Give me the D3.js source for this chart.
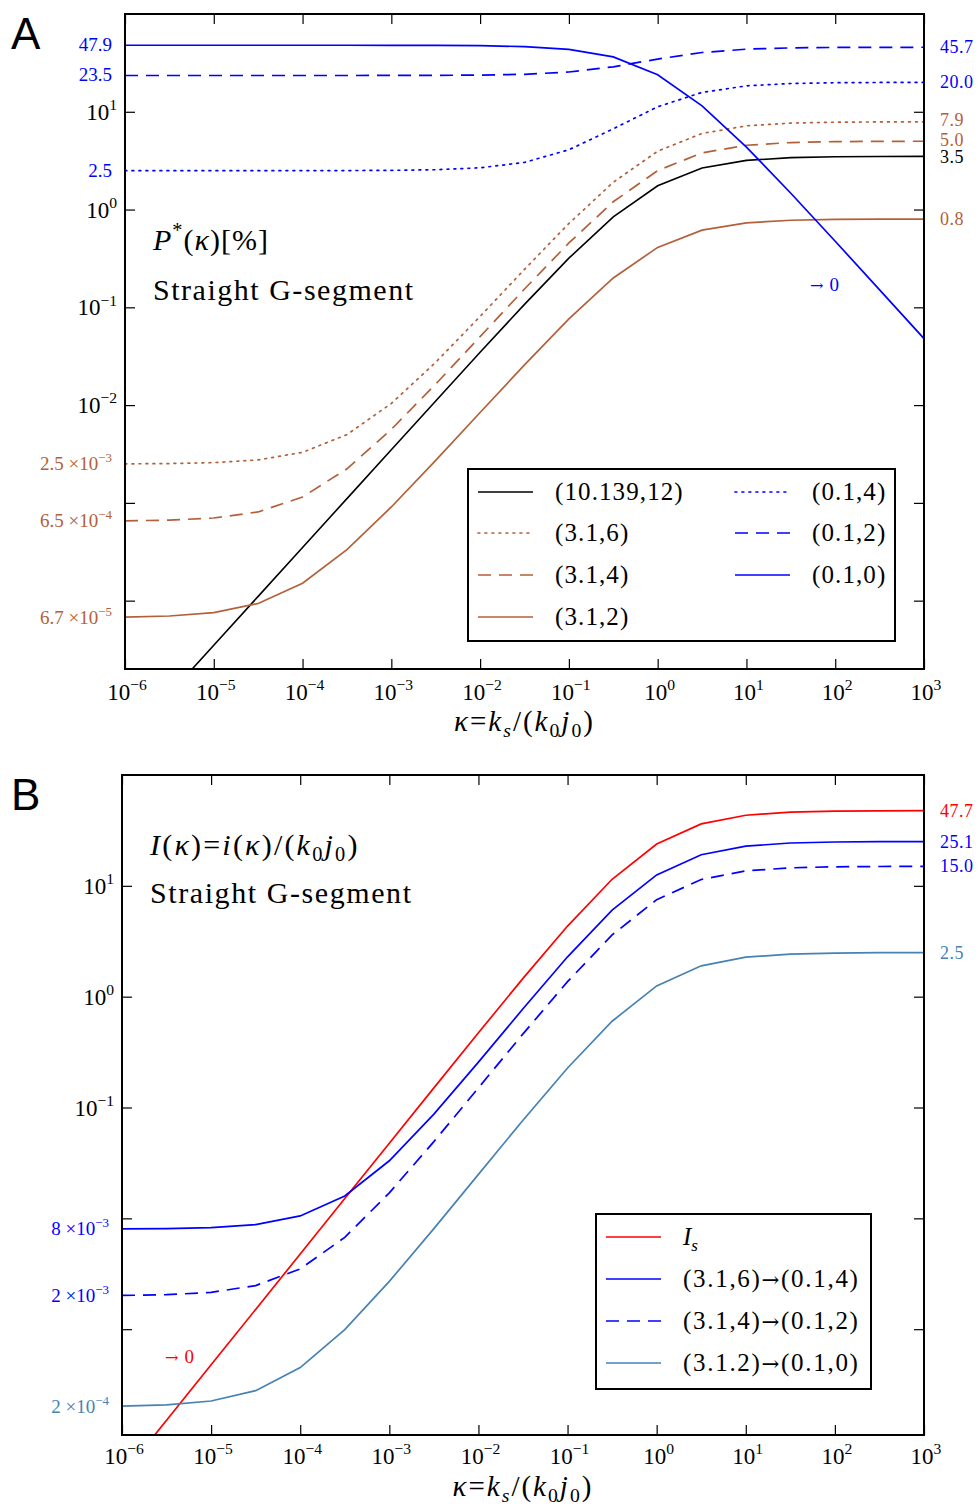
<!DOCTYPE html>
<html><head><meta charset="utf-8">
<script src="https://cdn.jsdelivr.net/npm/d3@7"></script>
<style>body{margin:0;background:#fff}</style>
</head><body>
<svg id="c" width="979" height="1507"></svg>
<script>
// ---------- data ----------
const kappa = [1e-6, 3.162e-6, 1e-5, 3.162e-5, 1e-4, 3.162e-4, 1e-3, 3.162e-3, 1e-2, 3.162e-2,
               0.1, 0.3162, 1, 3.162, 10, 31.62, 100, 316.2, 1000];

// Panel A: P*(kappa) [%]
const pA_10139_12 = [3.5e-6, 1.107e-5, 3.5e-5, 1.107e-4, 3.5e-4, 1.106e-3, 3.497e-3, 1.103e-2, 3.465e-2, 0.1073,
                     0.3182, 0.8407, 1.75, 2.659, 3.182, 3.393, 3.465, 3.489, 3.4965];
const pA_31_6 = [2.508e-3, 2.525e-3, 2.579e-3, 2.75e-3, 3.29e-3, 4.997e-3, 0.01039, 0.0274, 0.08072, 0.2446,
                 0.7207, 1.90, 3.953, 6.004, 7.184, 7.66, 7.824, 7.878, 7.894];
const pA_31_4 = [6.55e-4, 6.66e-4, 7.0e-4, 8.08e-4, 1.15e-3, 2.23e-3, 5.645e-3, 0.01641, 0.05016, 0.1539,
                 0.4552, 1.202, 2.501, 3.799, 4.546, 4.847, 4.951, 4.985, 4.996];
const pA_31_2 = [6.78e-5, 6.97e-5, 7.54e-5, 9.36e-5, 1.51e-4, 3.33e-4, 9.08e-4, 2.72e-3, 8.4e-3, 0.02576,
                 0.0762, 0.1998, 0.410, 0.615, 0.731, 0.777, 0.7925, 0.7976, 0.7992];
const pA_01_4 = [2.5, 2.5, 2.5, 2.5005, 2.5017, 2.5055, 2.5175, 2.555, 2.673, 3.036,
                 4.091, 6.704, 11.25, 15.79, 18.41, 19.46, 19.83, 19.94, 19.98];
const pA_01_2 = [23.5, 23.5, 23.5, 23.501, 23.502, 23.507, 23.52, 23.57, 23.72, 24.18,
                 25.52, 28.83, 34.6, 40.37, 43.68, 45.02, 45.48, 45.63, 45.68];
const pA_01_0 = [47.9, 47.9, 47.9, 47.898, 47.895, 47.885, 47.85, 47.75, 47.43, 46.43,
                 43.55, 36.39, 23.95, 11.51, 4.355, 1.469, 0.4743, 0.1509, 0.04785];

// Panel B: I(kappa)
const iB_Is = [4.77e-5, 1.508e-4, 4.77e-4, 1.508e-3, 4.77e-3, 0.01508, 0.04765, 0.1504, 0.4723, 1.462,
               4.336, 11.46, 23.85, 36.24, 43.36, 46.24, 47.23, 47.55, 47.65];
const iB_6_4 = [8.025e-3, 8.079e-3, 8.251e-3, 8.794e-3, 0.01051, 0.01593, 0.03308, 0.08711, 0.2565, 0.7773,
                2.29, 6.037, 12.56, 19.07, 22.83, 24.34, 24.86, 25.03, 25.08];
const iB_4_2 = [2.015e-3, 2.047e-3, 2.15e-3, 2.474e-3, 3.5e-3, 6.742e-3, 0.01699, 0.04928, 0.1505, 0.4618,
                1.366, 3.605, 7.502, 11.40, 13.64, 14.54, 14.85, 14.95, 14.99];
const iB_2_0 = [2.025e-4, 2.079e-4, 2.25e-4, 2.79e-4, 4.5e-4, 9.9e-4, 2.698e-3, 8.08e-3, 0.02495, 0.07683,
                0.2275, 0.6005, 1.25, 1.899, 2.273, 2.423, 2.475, 2.492, 2.4975];

// tick values / labels
const xTicks = [1e-6, 1e-5, 1e-4, 1e-3, 1e-2, 1e-1, 1, 10, 100, 1000];
const xTickExp = ["\u22126", "\u22125", "\u22124", "\u22123", "\u22122", "\u22121", "0", "1", "2", "3"];
const yTicksA = [10, 1, 0.1, 0.01, 0.001, 0.0001];
const yTickExpA = ["1", "0", "\u22121", "\u22122", null, null];
const yTicksB = [10, 1, 0.1, 0.01, 0.001];
const yTickExpB = ["1", "0", "\u22121", null, null];

// series labels
const legendA = ["(10.139,12)", "(3.1,6)", "(3.1,4)", "(3.1,2)", "(0.1,4)", "(0.1,2)", "(0.1,0)"];
const legendB = [["(3.1,6)", "(0.1,4)"], ["(3.1,4)", "(0.1,2)"], ["(3.1.2)", "(0.1,0)"]];

// side value labels
const leftLabA = [
  {v: 47.9, m: "47.9", e: null, c: "blue"},
  {v: 23.5, m: "23.5", e: null, c: "blue"},
  {v: 2.5, m: "2.5", e: null, c: "blue"},
  {v: 2.5e-3, m: "2.5 \u00d710", e: "\u22123", c: "brown"},
  {v: 6.5e-4, m: "6.5 \u00d710", e: "\u22124", c: "brown"},
  {v: 6.7e-5, m: "6.7 \u00d710", e: "\u22125", c: "brown"}];
const rightLabA = [
  {v: 45.7, m: "45.7", c: "blue", d: 0},
  {v: 20.0, m: "20.0", c: "blue", d: 0},
  {v: 7.9, m: "7.9", c: "brown", d: -2},
  {v: 5.0, m: "5.0", c: "brown", d: -1},
  {v: 3.5, m: "3.5", c: "black", d: 1},
  {v: 0.8, m: "0.8", c: "brown", d: 0}];
const leftLabB = [
  {v: 8e-3, m: "8 \u00d710", e: "\u22123", c: "blue"},
  {v: 2e-3, m: "2 \u00d710", e: "\u22123", c: "blue"},
  {v: 2e-4, m: "2 \u00d710", e: "\u22124", c: "steel"}];
const rightLabB = [
  {v: 47.7, m: "47.7", c: "red", d: 0},
  {v: 25.1, m: "25.1", c: "blue", d: 0},
  {v: 15.0, m: "15.0", c: "blue", d: 0},
  {v: 2.5, m: "2.5", c: "steel", d: 0}];

// ---------- styling ----------
const COL = {black: "#000000", brown: "#b3603a", blue: "#0000ff", red: "#ff0000", steel: "#4682b4"};
const DASH = {solid: null, dashed: "13,8", dotted: "1.8,5.2"};
const SERIF = "'Liberation Serif','Times New Roman',serif";
const ARROWF = "'DejaVu Serif','DejaVu Sans',serif";

const svg = d3.select("#c");

function rich(sel, parts, size, subF, supF) {
  subF = subF || 0.24; supF = supF || 0.42;
  let shift = 0;
  parts.forEach(p => {
    const target = p.sub ? size * subF : p.sup ? -size * supF : 0;
    const ts = sel.append("tspan").text(p.t).attr("dy", target - shift);
    shift = target;
    if (p.sub || p.sup) ts.attr("font-size", size * 0.68);
    if (p.it) ts.attr("font-style", "italic");
    if (p.arrow) ts.attr("font-family", ARROWF).attr("font-size", size * 0.85);
    if (p.dx) ts.attr("dx", p.dx);
  });
}

function panel(cfg) {
  const x = d3.scaleLog().domain([1e-6, 1e3]).range([cfg.L, cfg.R]);
  const y = d3.scaleLog().domain(cfg.yDom).range([cfg.B, cfg.T]);
  const g = svg.append("g");
  const clipId = "clip" + cfg.id;
  g.append("clipPath").attr("id", clipId).append("rect")
    .attr("x", cfg.L).attr("y", cfg.T).attr("width", cfg.R - cfg.L).attr("height", cfg.B - cfg.T);

  // axes ticks (inward) on all sides
  const tk = 10;
  g.append("g").attr("transform", `translate(0,${cfg.B})`)
    .call(d3.axisBottom(x).tickValues(xTicks).tickSizeInner(-tk).tickSizeOuter(0).tickFormat(() => ""));
  g.append("g").attr("transform", `translate(0,${cfg.T})`)
    .call(d3.axisTop(x).tickValues(xTicks).tickSizeInner(-tk).tickSizeOuter(0).tickFormat(() => ""));
  g.append("g").attr("transform", `translate(${cfg.L},0)`)
    .call(d3.axisLeft(y).tickValues(cfg.yTicks).tickSizeInner(-tk).tickSizeOuter(0).tickFormat(() => ""));
  g.append("g").attr("transform", `translate(${cfg.R},0)`)
    .call(d3.axisRight(y).tickValues(cfg.yTicks).tickSizeInner(-tk).tickSizeOuter(0).tickFormat(() => ""));
  g.selectAll(".domain").remove();
  g.selectAll(".tick line").attr("stroke", "#000").attr("stroke-width", 1.2);

  // x tick labels
  xTicks.forEach((t, i) => {
    const tx = g.append("text").attr("x", x(t) + 2).attr("y", cfg.B + cfg.xtOff)
      .attr("text-anchor", "middle").attr("font-family", SERIF).attr("font-size", 23);
    rich(tx, [{t: "10"}, {t: xTickExp[i], sup: true}], 23);
  });
  // y tick labels
  cfg.yTicks.forEach((t, i) => {
    const e = cfg.yExp[i];
    if (e === null) return;
    const tx = g.append("text").attr("x", cfg.L - 8).attr("y", y(t) + 8)
      .attr("text-anchor", "end").attr("font-family", SERIF).attr("font-size", 23);
    rich(tx, [{t: "10"}, {t: e, sup: true}], 23);
  });

  // curves
  const line = d3.line().x((d, i) => x(kappa[i])).y(d => y(d));
  const cg = g.append("g").attr("clip-path", `url(#${clipId})`);
  cfg.series.forEach(s => {
    cg.append("path").datum(s.data).attr("d", line).attr("fill", "none")
      .attr("stroke", COL[s.c]).attr("stroke-width", s.w || 1.7)
      .attr("stroke-dasharray", DASH[s.dash])
      .attr("stroke-linecap", s.dash === "dotted" ? "round" : "butt");
  });

  // frame
  g.append("rect").attr("x", cfg.L).attr("y", cfg.T).attr("width", cfg.R - cfg.L).attr("height", cfg.B - cfg.T)
    .attr("fill", "none").attr("stroke", "#000").attr("stroke-width", 2);

  // side labels
  cfg.leftLab.forEach(l => {
    const tx = g.append("text").attr("x", cfg.L - 13).attr("y", y(l.v) + 6)
      .attr("text-anchor", "end").attr("font-family", SERIF).attr("font-size", 19).attr("fill", COL[l.c]);
    const parts = [{t: l.m}];
    if (l.e) parts.push({t: l.e, sup: true});
    rich(tx, parts, 19);
  });
  cfg.rightLab.forEach(l => {
    g.append("text").attr("x", cfg.R + 16).attr("y", y(l.v) + 6 + l.d)
      .attr("font-family", SERIF).attr("font-size", 18).attr("letter-spacing", 0.5)
      .attr("fill", COL[l.c]).text(l.m);
  });

  // x axis label
  const xl = g.append("text").attr("x", (cfg.L + cfg.R) / 2).attr("y", cfg.B + cfg.xlOff)
    .attr("text-anchor", "middle").attr("font-family", SERIF).attr("font-size", 29)
    .attr("letter-spacing", 2);
  rich(xl, [{t: "\u03ba", it: true}, {t: "="}, {t: "k", it: true}, {t: "s", it: true, sub: true},
            {t: "/("}, {t: "k", it: true}, {t: "0", sub: true}, {t: "j", it: true}, {t: "0", sub: true}, {t: ")"}], 29, 0.2);

  // panel letter
  svg.append("text").attr("x", 11).attr("y", cfg.T + 35).attr("font-family", "'Liberation Sans',Arial,sans-serif")
    .attr("font-size", 44).text(cfg.letter);
  return {g, x, y};
}

// ---------- Panel A ----------
const A = panel({
  id: "A", letter: "A", L: 125, R: 924, T: 14, B: 669, yDom: [2e-5, 100], xtOff: 31, xlOff: 62,
  yTicks: yTicksA, yExp: yTickExpA, leftLab: leftLabA, rightLab: rightLabA,
  series: [
    {data: pA_10139_12, c: "black", dash: "solid", w: 1.6},
    {data: pA_31_6, c: "brown", dash: "dotted"},
    {data: pA_31_4, c: "brown", dash: "dashed"},
    {data: pA_31_2, c: "brown", dash: "solid"},
    {data: pA_01_4, c: "blue", dash: "dotted"},
    {data: pA_01_2, c: "blue", dash: "dashed"},
    {data: pA_01_0, c: "blue", dash: "solid"}]
});
{
  const g = A.g;
  const t1 = g.append("text").attr("x", 153).attr("y", 250).attr("font-family", SERIF).attr("font-size", 30)
    .attr("letter-spacing", 1);
  rich(t1, [{t: "P", it: true}, {t: "*", sup: true}, {t: "("}, {t: "\u03ba", it: true}, {t: ")[%]"}], 30);
  g.append("text").attr("x", 153).attr("y", 300).attr("font-family", SERIF).attr("font-size", 30)
    .attr("textLength", 260).attr("lengthAdjust", "spacing").text("Straight G-segment");
  const ar = g.append("text").attr("x", 810).attr("y", 291).attr("font-family", SERIF).attr("font-size", 19)
    .attr("fill", COL.blue);
  rich(ar, [{t: "\u2192", arrow: true}, {t: "0", dx: 6}], 19);

  // legend A
  const lg = g.append("g");
  lg.append("rect").attr("x", 468).attr("y", 469).attr("width", 427).attr("height", 172)
    .attr("fill", "#fff").attr("stroke", "#000").attr("stroke-width", 2);
  const styles = [["black", "solid"], ["brown", "dotted"], ["brown", "dashed"], ["brown", "solid"],
                  ["blue", "dotted"], ["blue", "dashed"], ["blue", "solid"]];
  const rows = [492, 533, 575, 617];
  legendA.forEach((lab, i) => {
    const col = i < 4 ? 0 : 1;
    const r = i < 4 ? i : i - 4;
    const x0 = col === 0 ? 478 : 735;
    const tx0 = col === 0 ? 555 : 812;
    lg.append("line").attr("x1", x0).attr("x2", x0 + 55).attr("y1", rows[r]).attr("y2", rows[r])
      .attr("stroke", COL[styles[i][0]]).attr("stroke-width", 1.7)
      .attr("stroke-dasharray", DASH[styles[i][1]])
      .attr("stroke-linecap", styles[i][1] === "dotted" ? "round" : "butt");
    lg.append("text").attr("x", tx0).attr("y", rows[r] + 8).attr("font-family", SERIF)
      .attr("font-size", 25).attr("letter-spacing", 1.1).text(lab);
  });
}

// ---------- Panel B ----------
const Bp = panel({
  id: "B", letter: "B", L: 122, R: 924, T: 775, B: 1435, yDom: [1.11e-4, 100], xtOff: 29, xlOff: 61,
  yTicks: yTicksB, yExp: yTickExpB, leftLab: leftLabB, rightLab: rightLabB,
  series: [
    {data: iB_Is, c: "red", dash: "solid"},
    {data: iB_6_4, c: "blue", dash: "solid"},
    {data: iB_4_2, c: "blue", dash: "dashed"},
    {data: iB_2_0, c: "steel", dash: "solid"}]
});
{
  const g = Bp.g;
  const t1 = g.append("text").attr("x", 150).attr("y", 855).attr("font-family", SERIF).attr("font-size", 30)
    .attr("letter-spacing", 2.2);
  rich(t1, [{t: "I", it: true}, {t: "("}, {t: "\u03ba", it: true}, {t: ")="}, {t: "i", it: true}, {t: "("},
            {t: "\u03ba", it: true}, {t: ")/("}, {t: "k", it: true}, {t: "0", sub: true}, {t: "j", it: true},
            {t: "0", sub: true}, {t: ")"}], 30, 0.2);
  g.append("text").attr("x", 150).attr("y", 903).attr("font-family", SERIF).attr("font-size", 30)
    .attr("textLength", 261).attr("lengthAdjust", "spacing").text("Straight G-segment");
  const ar = g.append("text").attr("x", 165).attr("y", 1363).attr("font-family", SERIF).attr("font-size", 19)
    .attr("fill", COL.red);
  rich(ar, [{t: "\u2192", arrow: true}, {t: "0", dx: 6}], 19);

  const lg = g.append("g");
  lg.append("rect").attr("x", 596).attr("y", 1214).attr("width", 275).attr("height", 175)
    .attr("fill", "#fff").attr("stroke", "#000").attr("stroke-width", 2);
  const rows = [1237, 1279, 1321, 1363];
  const styles = [["red", "solid"], ["blue", "solid"], ["blue", "dashed"], ["steel", "solid"]];
  styles.forEach((s, i) => {
    lg.append("line").attr("x1", 606).attr("x2", 661).attr("y1", rows[i]).attr("y2", rows[i])
      .attr("stroke", COL[s[0]]).attr("stroke-width", 1.7).attr("stroke-dasharray", DASH[s[1]]);
  });
  const t0 = lg.append("text").attr("x", 683).attr("y", rows[0] + 8).attr("font-family", SERIF).attr("font-size", 25);
  rich(t0, [{t: "I", it: true}, {t: "s", it: true, sub: true}], 25);
  legendB.forEach((lab, i) => {
    const tx = lg.append("text").attr("x", 683).attr("y", rows[i + 1] + 8).attr("font-family", SERIF)
      .attr("font-size", 25).attr("letter-spacing", 1.7);
    rich(tx, [{t: lab[0]}, {t: "\u2192", arrow: true}, {t: lab[1]}], 25);
  });
}
</script>
</body></html>
